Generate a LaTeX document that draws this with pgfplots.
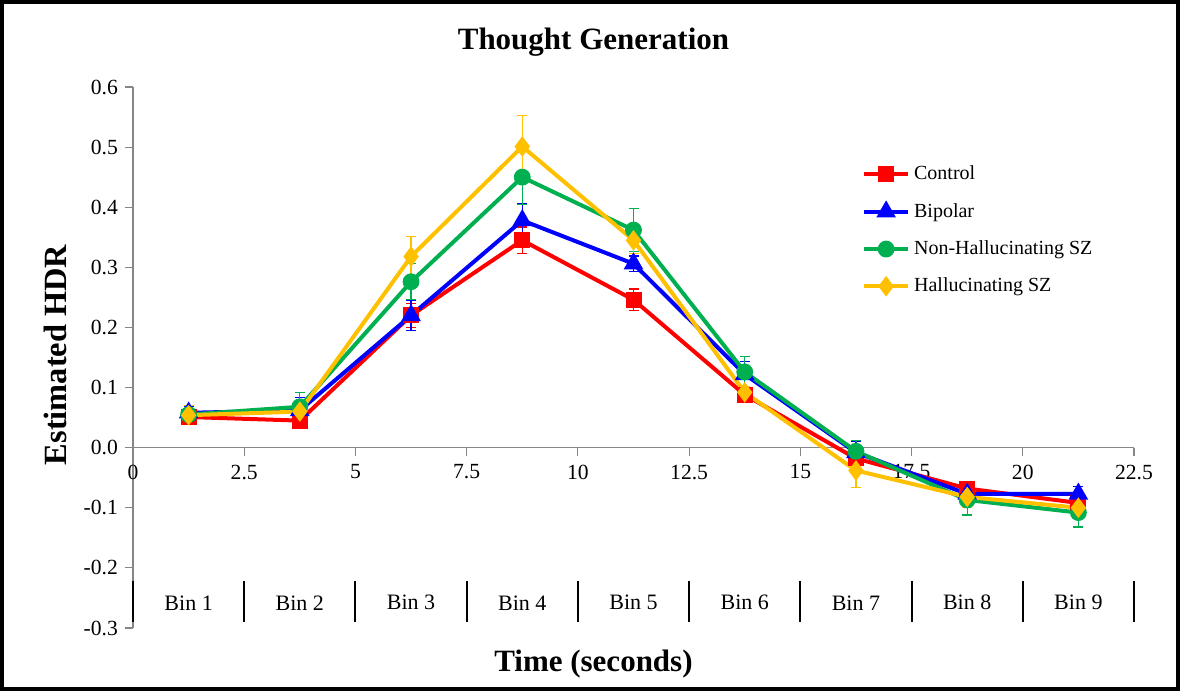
\documentclass[border=0pt]{standalone}
\usepackage{pgfplots}
\pgfplotsset{compat=1.18}
\usepackage{fontspec}
\setmainfont{Liberation Serif}

\definecolor{cControl}{RGB}{255,0,0}
\definecolor{cBipolar}{RGB}{0,0,255}
\definecolor{cNonH}{RGB}{0,176,80}
\definecolor{cHall}{RGB}{255,192,0}
\definecolor{axgray}{RGB}{134,134,134}

\begin{document}
\begin{tikzpicture}
\useasboundingbox (0,0) rectangle (590pt,345.5pt);
\draw[line width=1.8pt] (0.9pt,0.9pt) rectangle (589.1pt,344.6pt);
\begin{axis}[
  at={(66.5pt,31.5pt)}, anchor=south west,
  scale only axis, width=500.5pt, height=270.5pt,
  xmin=0, xmax=22.5, ymin=-0.3, ymax=0.6,
  axis x line*=middle, axis y line*=left,
  axis line style={axgray, line width=0.6pt},
  tick style={axgray, line width=0.6pt},
  tick align=outside,
  major tick length=4pt,
  hide obscured x ticks=false,
  xtick={0,2.5,...,22.5},
  ytick={-0.3,-0.2,...,0.6},
  xticklabels={0,2.5,5,7.5,10,12.5,15,17.5,20,22.5},
  yticklabel style={/pgf/number format/.cd, fixed, fixed zerofill, precision=1},
  /pgf/number format/assume math mode=true,
  ticklabel style={font=\fontsize{10.8}{12}\selectfont, black},
  xticklabel style={yshift=-1pt},
  every axis title shift=0pt,
  title={\textbf{Thought Generation}},
  title style={at={(axis description cs:0.46,1.083)}, anchor=center, font=\fontsize{15.5}{17}\selectfont},
  ylabel={\textbf{Estimated HDR}},
  ylabel style={at={(axis description cs:-0.078,0.505)}, anchor=center, font=\fontsize{16.2}{18}\selectfont},
  xlabel={\textbf{Time (seconds)}},
  xlabel style={at={(axis description cs:0.46,-0.0665)}, anchor=center, font=\fontsize{15.5}{17}\selectfont},
  clip=false,
  legend style={at={(rel axis cs:0.728,0.862)}, anchor=north west, draw=none, fill=none,
    font=\fontsize{10}{12}\selectfont, row sep=6.2pt, inner sep=0pt},
  legend cell align=left,
  legend image code/.code={\draw[mark repeat=2,mark phase=2] plot coordinates {(0pt,0pt) (11pt,0pt) (22pt,0pt)};},
  every axis plot/.append style={line width=2pt},
  error bars/error bar style={line width=0.6pt},
  error bars/error mark options={rotate=90, mark size=2.5pt, line width=0.6pt},
]

\addplot[color=cControl, mark=square*, mark size=3pt,
  error bars/.cd, y dir=both, y explicit]
coordinates {
  (1.25,0.051) +- (0,0.010)
  (3.75,0.045) +- (0,0.005)
  (6.25,0.220) +- (0,0.020)
  (8.75,0.345) +- (0,0.022)
  (11.25,0.246) +- (0,0.018)
  (13.75,0.088) +- (0,0.008)
  (16.25,-0.018) +- (0,0.008)
  (18.75,-0.068) +- (0,0.008)
  (21.25,-0.092) +- (0,0.008)
};
\addlegendentry{Control}

\addplot[color=cBipolar, mark=triangle*, mark size=3.7pt,
  error bars/.cd, y dir=both, y explicit]
coordinates {
  (1.25,0.058) +- (0,0.010)
  (3.75,0.062) +- (0,0.022)
  (6.25,0.220) +- (0,0.025)
  (8.75,0.378) +- (0,0.028)
  (11.25,0.306) +- (0,0.013)
  (13.75,0.122) +- (0,0.022)
  (16.25,-0.008) +- (0,0.018)
  (18.75,-0.077) +- (0,0.008)
  (21.25,-0.077) +- (0,0.012)
};
\addlegendentry{Bipolar}

\addplot[color=cNonH, mark=*, mark size=3.2pt,
  error bars/.cd, y dir=both, y explicit]
coordinates {
  (1.25,0.055) +- (0,0.010)
  (3.75,0.068) +- (0,0.024)
  (6.25,0.276) +- (0,0.030)
  (8.75,0.450) +- (0,0.045)
  (11.25,0.362) +- (0,0.036)
  (13.75,0.126) +- (0,0.026)
  (16.25,-0.006) +- (0,0.018)
  (18.75,-0.087) +- (0,0.025)
  (21.25,-0.108) +- (0,0.024)
};
\addlegendentry{Non-Hallucinating SZ}

\addplot[color=cHall, mark=diamond*, mark size=3.5pt,
  error bars/.cd, y dir=both, y explicit]
coordinates {
  (1.25,0.054) +- (0,0.016)
  (3.75,0.060) +- (0,0.010)
  (6.25,0.318) +- (0,0.033)
  (8.75,0.501) +- (0,0.052)
  (11.25,0.345) +- (0,0.022)
  (13.75,0.092) +- (0,0.010)
  (16.25,-0.038) +- (0,0.028)
  (18.75,-0.082) +- (0,0.018)
  (21.25,-0.100) +- (0,0.010)
};
\addlegendentry{Hallucinating SZ}

\pgfplotsinvokeforeach{0,2.5,5,7.5,10,12.5,15,17.5,20,22.5}{
  \draw[black, line width=1pt] (axis cs:#1,-0.222) -- (axis cs:#1,-0.290);
}
\pgfplotsinvokeforeach{1,2,3,4,5,6,7,8,9}{
  \node[font=\fontsize{11}{12}\selectfont] at (axis cs:{2.5*#1-1.25},-0.258) {Bin #1};
}
\end{axis}
\end{tikzpicture}
\end{document}
